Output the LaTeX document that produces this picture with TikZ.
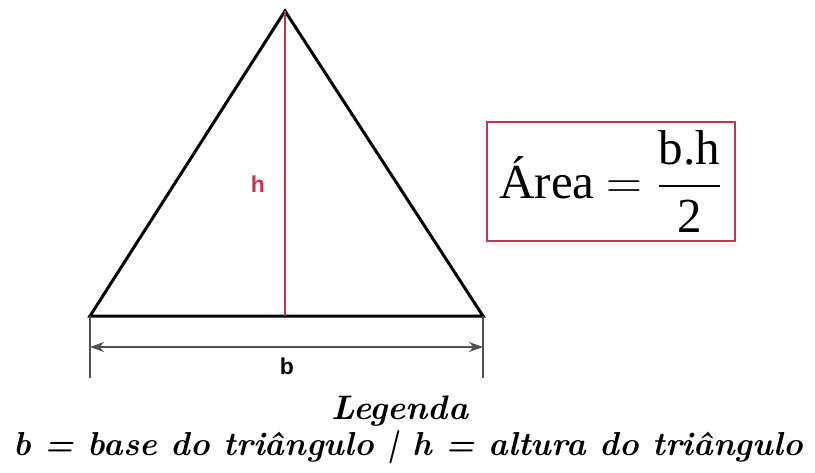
\documentclass[tikz,border=0pt]{standalone}
\usepackage{amsmath}
\usepackage{fontspec}
\newfontfamily\formulafont{Liberation Serif}
\newfontfamily\labelfont{Liberation Sans}
\usetikzlibrary{arrows.meta}
\definecolor{boxred}{RGB}{196,52,78}
\definecolor{dimgray}{RGB}{80,80,80}

\begin{document}
\begin{tikzpicture}[x=0.5pt,y=-0.5pt]
		\useasboundingbox (0,0) rectangle (815,472);

		% Triangle
		\coordinate (apex) at (285,11);
		\coordinate (bl) at (90,316);
		\coordinate (br) at (483,316);
		\coordinate (foot) at (285,316);
		\draw[line width=1.5pt, line join=miter] (bl) -- (apex) -- (br) -- cycle;
		\draw[boxred, line width=1.2pt] (apex) -- (foot);
		\node[text=boxred, font=\labelfont\bfseries\fontsize{11.5}{12}\selectfont] (hlabel) at (258,184) {h};

		% Base dimension
		\coordinate (blend) at (90,378);
		\coordinate (brend) at (483,378);
		\coordinate (dl) at (90,347);
		\coordinate (dr) at (483,347);
		\draw[dimgray, line width=0.6pt] (bl) -- (blend);
		\draw[dimgray, line width=0.6pt] (br) -- (brend);
		\draw[{Stealth[length=7pt,width=5pt]}-{Stealth[length=7pt,width=5pt]}, line width=0.7pt, dimgray] (dl) -- (dr);
		\node[font=\labelfont\bfseries\fontsize{11.5}{12}\selectfont] (blabel) at (287,366) {b};

		% Area formula
		\node[draw=boxred, line width=1.2pt, inner sep=1pt, minimum width=124pt, minimum height=59.5pt, font=\formulafont\fontsize{24.5}{27}\selectfont] (area) at (611,181.5) {Área $=\dfrac{\text{b.h}}{\text{2}}$};

		% Legend
		\node[font=\bfseries\itshape\fontsize{17}{19}\selectfont] (legtitle) at (400,411) {Legenda};
		\node[font=\bfseries\itshape\fontsize{16.6}{19}\selectfont] (legtext) at (408,447) {b = base do triângulo | h = altura do triângulo};
	\end{tikzpicture}
\end{document}
